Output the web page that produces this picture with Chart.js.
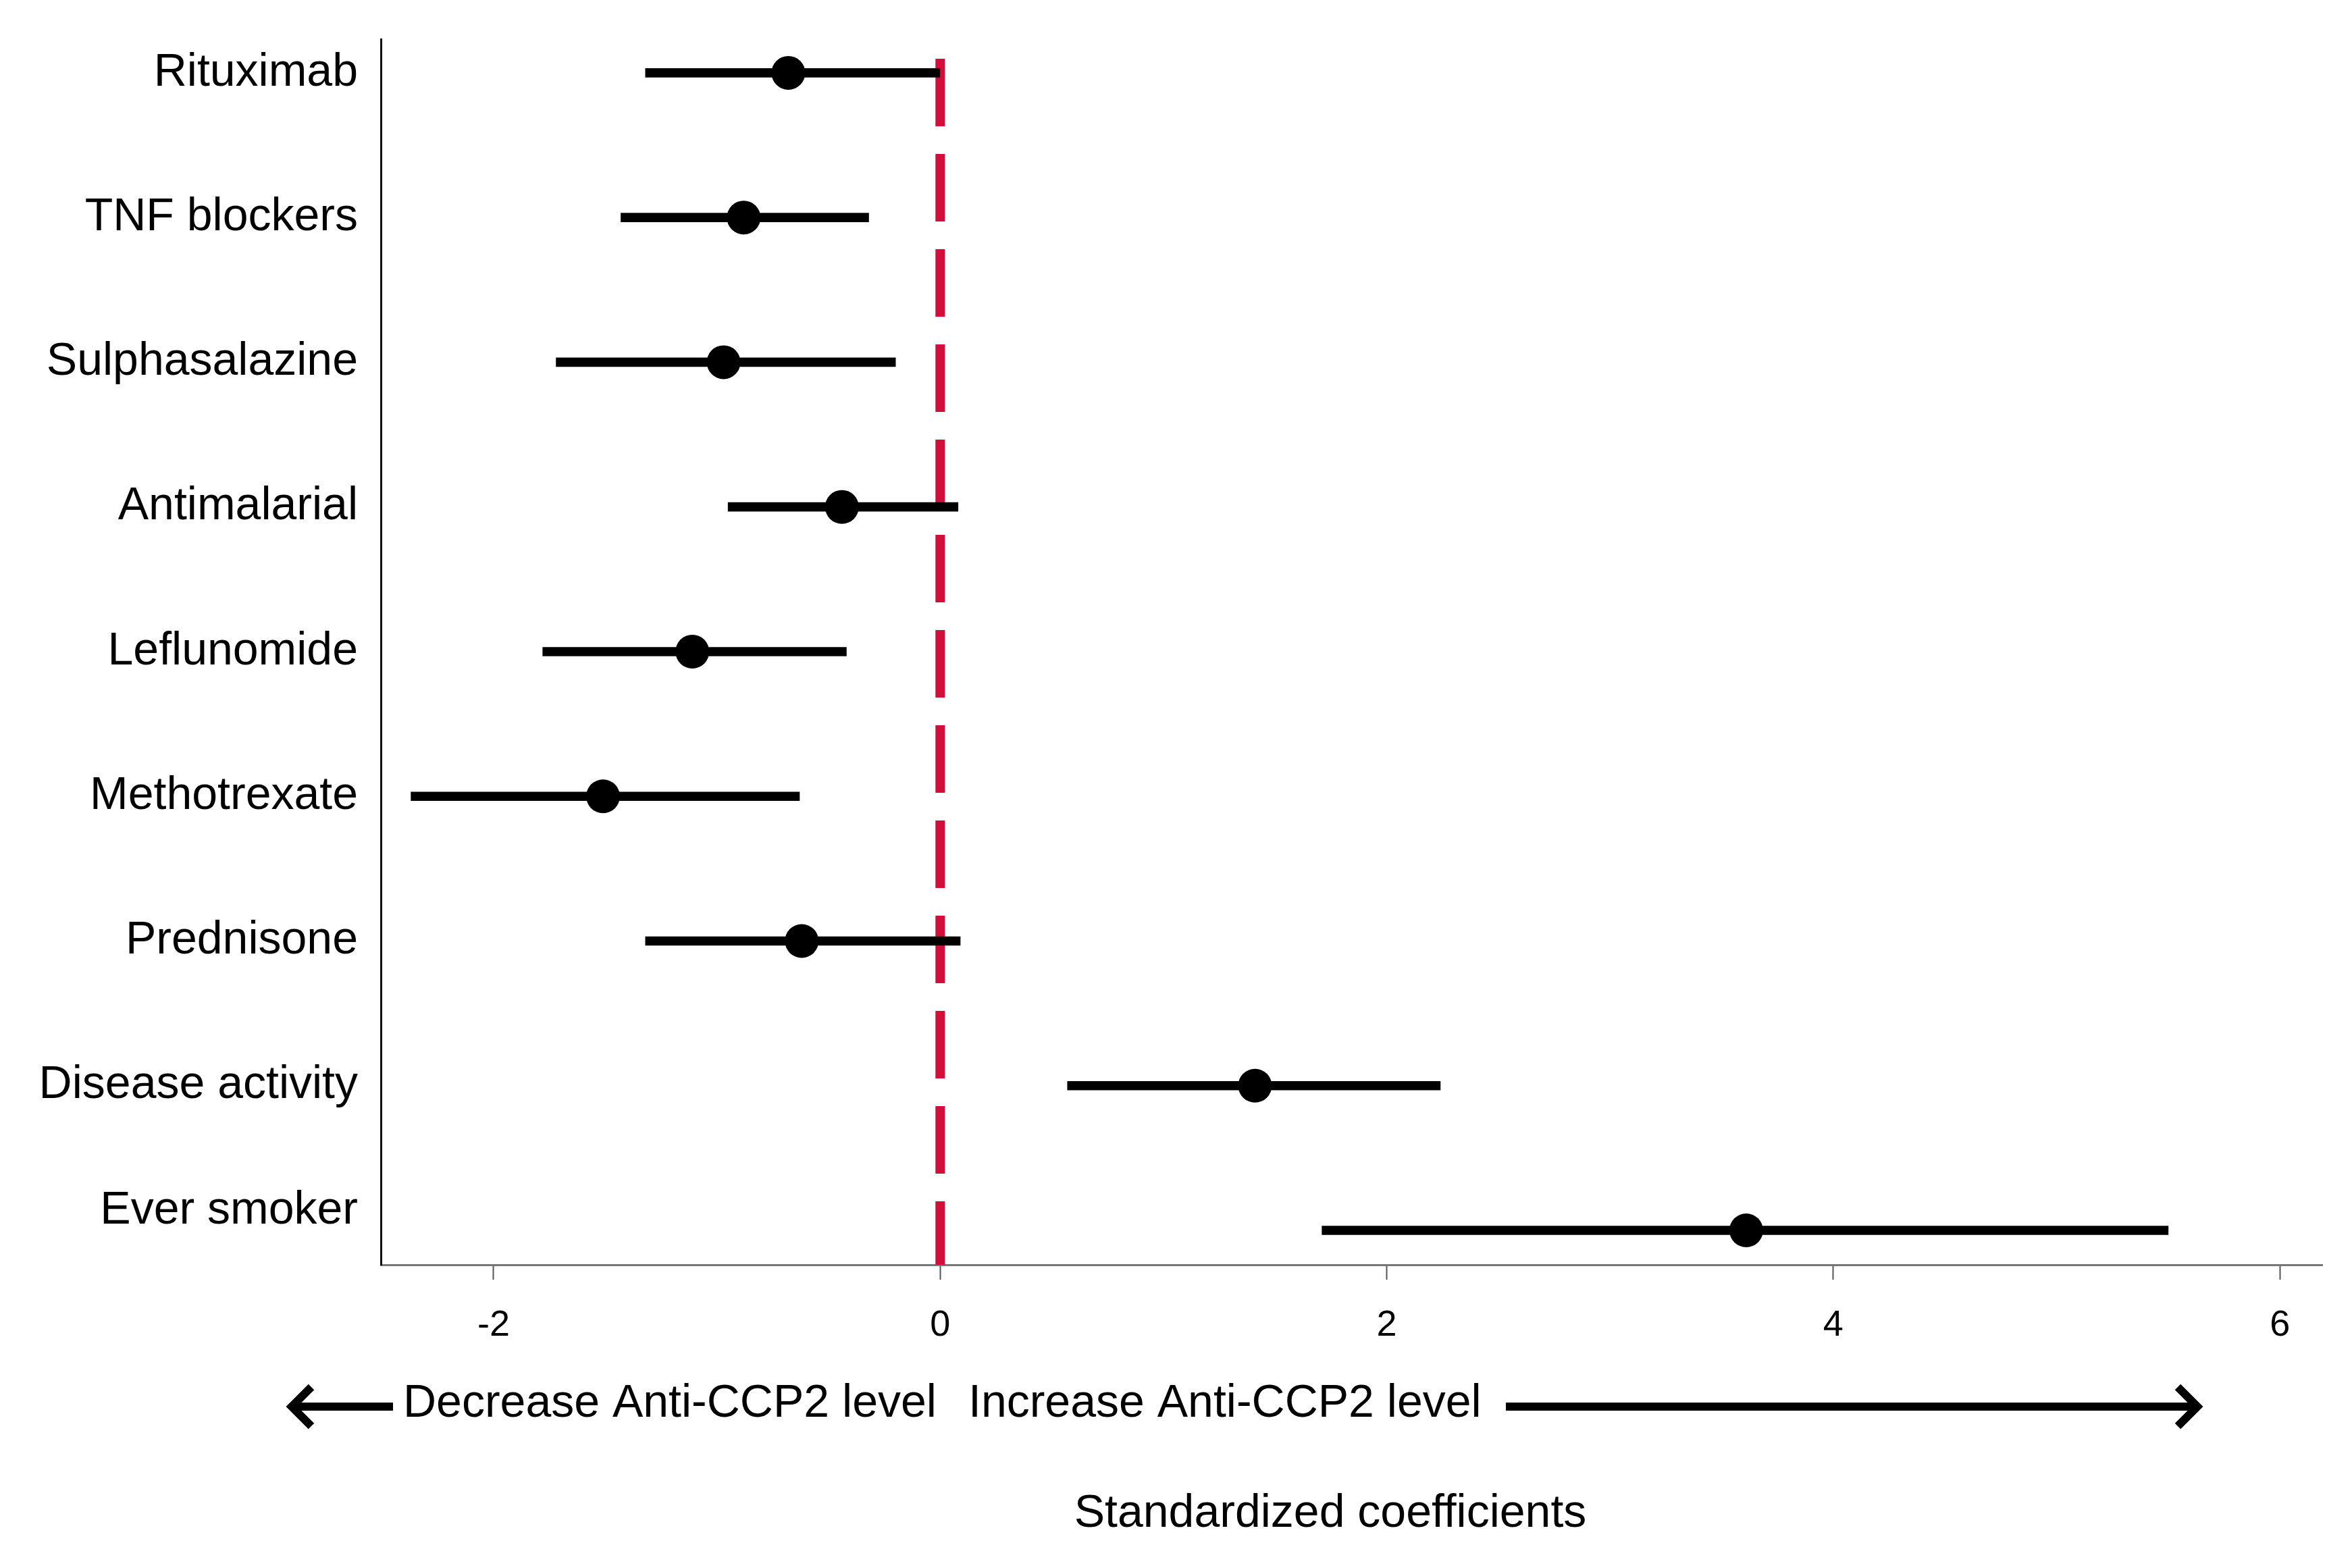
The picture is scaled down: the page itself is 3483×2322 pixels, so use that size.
<!DOCTYPE html>
<html>
<head>
<meta charset="utf-8">
<script src="https://cdn.jsdelivr.net/npm/chart.js@4/dist/chart.umd.min.js"></script>
<style>
  html, body { margin: 0; padding: 0; background: #ffffff; }
  #wrap { width: 3483px; height: 2322px; }
</style>
</head>
<body>
<div id="wrap"><canvas id="c" width="3483" height="2322"></canvas></div>
<script>
// ---- data ----
const categories = ['Rituximab', 'TNF blockers', 'Sulphasalazine', 'Antimalarial', 'Leflunomide',
                    'Methotrexate', 'Prednisone', 'Disease activity', 'Ever smoker'];
const estimates = [-0.68, -0.88, -0.97, -0.44, -1.11, -1.51, -0.62, 1.41, 3.61];
const lowerCI   = [-1.32, -1.43, -1.72, -0.95, -1.78, -2.37, -1.32, 0.57, 1.71];
const upperCI   = [ 0.00, -0.32, -0.20,  0.08, -0.42, -0.63,  0.09, 2.24, 5.50];
const xTicks = [-2, 0, 2, 4, 6];
const refLine = 0;
const leftText = 'Decrease Anti-CCP2 level';
const rightText = 'Increase Anti-CCP2 level';
const axisTitle = 'Standardized coefficients';

const FONT = "'Liberation Sans', Arial, Helvetica, sans-serif";

const ciData = categories.map((c, i) => ({ x: [lowerCI[i], upperCI[i]], y: i }));
const ptData = categories.map((c, i) => ({ x: estimates[i], y: i }));
const lastIdx = categories.length - 1;

const refLinePlugin = {
  id: 'refLine',
  beforeDatasetsDraw(chart) {
    const { ctx, chartArea, scales } = chart;
    const px = scales.x.getPixelForValue(refLine);
    ctx.save();
    ctx.strokeStyle = '#D0103A';
    ctx.lineWidth = 14;
    ctx.setLineDash([100, 41]);
    ctx.beginPath();
    ctx.moveTo(px, chartArea.top + 29);
    ctx.lineTo(px, chartArea.bottom);
    ctx.stroke();
    ctx.restore();
  }
};

const arrowsPlugin = {
  id: 'arrows',
  afterDraw(chart) {
    const { ctx } = chart;
    const y = 2083;
    ctx.save();
    ctx.strokeStyle = '#000';
    ctx.fillStyle = '#000';
    ctx.lineWidth = 12;
    ctx.lineCap = 'butt';
    ctx.lineJoin = 'miter';
    // left arrow
    ctx.beginPath(); ctx.moveTo(582, y); ctx.lineTo(436, y); ctx.stroke();
    ctx.beginPath(); ctx.moveTo(461, y - 29); ctx.lineTo(432, y); ctx.lineTo(461, y + 29); ctx.stroke();
    // right arrow
    ctx.beginPath(); ctx.moveTo(2230, y); ctx.lineTo(3250, y); ctx.stroke();
    ctx.beginPath(); ctx.moveTo(3225, y - 29); ctx.lineTo(3254, y); ctx.lineTo(3225, y + 29); ctx.stroke();
    // texts
    ctx.font = '68px ' + FONT;
    ctx.textBaseline = 'middle';
    ctx.textAlign = 'left';
    ctx.fillText(leftText, 597, 2079);
    ctx.fillText(rightText, 1434, 2079);
    // axis title
    ctx.textAlign = 'center';
    ctx.fillText(axisTitle, 1970, 2242);
    ctx.restore();
  }
};

new Chart(document.getElementById('c'), {
  type: 'bar',
  data: {
    datasets: [
      {
        type: 'scatter',
        data: ptData,
        pointRadius: 25,
        pointHoverRadius: 25,
        pointBackgroundColor: '#000',
        pointBorderWidth: 0,
        showLine: false,
        order: 1
      },
      {
        type: 'bar',
        indexAxis: 'y',
        data: ciData,
        backgroundColor: '#000',
        borderWidth: 0,
        barThickness: 13,
        order: 2
      }
    ]
  },
  options: {
    responsive: false,
    animation: false,
    devicePixelRatio: 1,
    layout: { padding: { left: 0, right: 44, top: 58, bottom: 0 } },
    plugins: { legend: { display: false }, tooltip: { enabled: false } },
    scales: {
      x: {
        type: 'linear',
        offset: false,
        min: -2.505,
        max: 6.19,
        afterBuildTicks: (scale) => { scale.ticks = xTicks.map(v => ({ value: v })); },
        afterFit: (scale) => { scale.height = 449; scale.paddingLeft = 0; scale.paddingRight = 0; },
        grid: { display: true, offset: false, drawOnChartArea: false, drawTicks: true, tickLength: 22, tickColor: '#555', tickWidth: 2 },
        border: { display: true, color: '#777', width: 3 },
        ticks: {
          color: '#000',
          font: { family: FONT, size: 54 },
          padding: 36,
          maxRotation: 0,
          callback: (v) => String(v)
        },
        title: { display: false, text: axisTitle }
      },
      y: {
        type: 'linear',
        offset: false,
        reverse: true,
        beginAtZero: false,
        min: -0.233,
        max: 8.238,
        afterBuildTicks: (scale) => { scale.ticks = categories.map((c, i) => ({ value: i })); },
        afterFit: (scale) => { scale.width = 564; scale.paddingTop = 0; scale.paddingBottom = 0; },
        grid: { display: false, offset: false, drawTicks: false },
        border: { display: true, color: '#111', width: 3 },
        ticks: {
          color: '#000',
          font: (ctx) => ctx.index === lastIdx
            ? { family: FONT, size: 68, lineHeight: 0.85 }
            : { family: FONT, size: 68 },
          padding: 34,
          callback: (v) => {
            const lab = categories[v];
            if (lab === undefined) return '';
            return v === lastIdx ? [lab, ''] : lab;
          }
        }
      }
    }
  },
  plugins: [refLinePlugin, arrowsPlugin]
});
</script>
</body>
</html>
